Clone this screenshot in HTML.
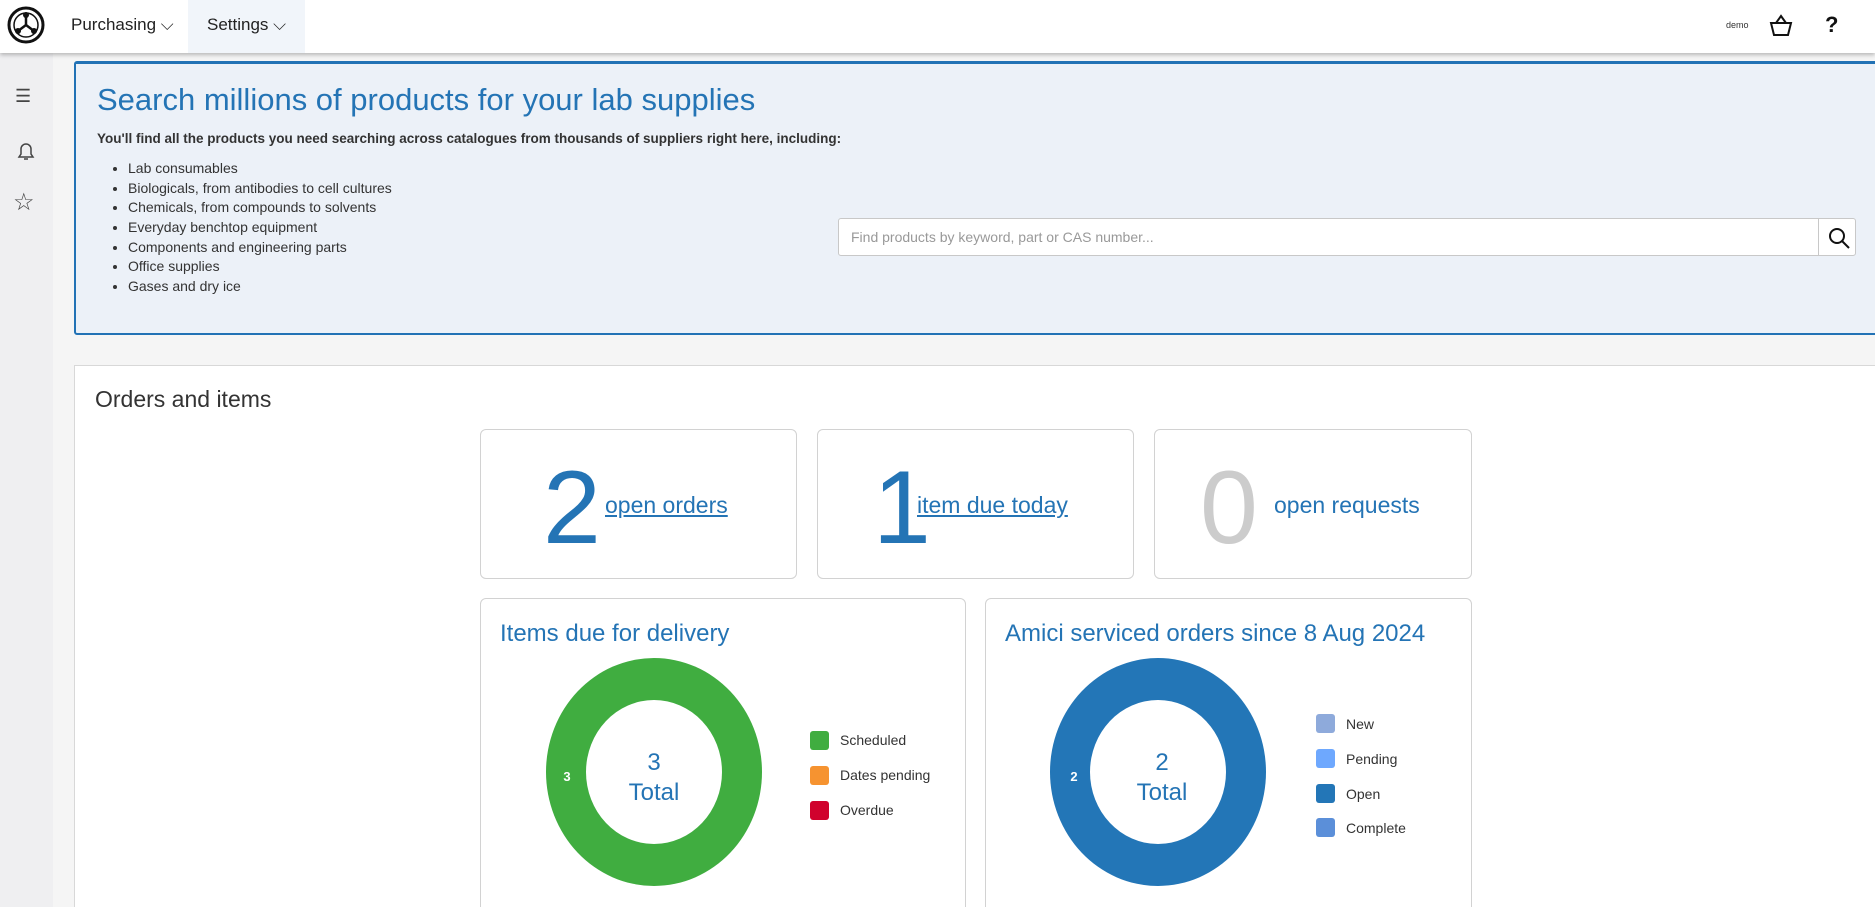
<!DOCTYPE html>
<html style="width:1875px;height:907px;overflow:hidden"><head><meta charset="utf-8"><style>
*{box-sizing:border-box;margin:0;padding:0}
body{width:1875px;height:907px;overflow:hidden;background:#f5f5f5;font-family:"Liberation Sans",sans-serif;color:#333;position:relative}
#wrap{position:absolute;left:0;top:0;width:1875px;height:907px;overflow:hidden}
.abs{position:absolute}
.hdr{left:0;top:0;width:1875px;height:53px;background:#fff;box-shadow:0 2px 4px rgba(0,0,0,.25);z-index:5}
.side{left:0;top:53px;width:53px;height:854px;background:#efeff1}
.banner{left:74px;top:61px;width:1820px;height:274px;background:#ecf1f8;border:2px solid #2272b5;border-top-width:3px;border-radius:3px}
.panel{left:74px;top:365px;width:1820px;height:560px;background:#fff;border:1px solid #d8d8d8}
.card{background:#fff;border:1px solid #d2d2d2;border-radius:6px}
.big{font-size:104px;line-height:1;color:#2474b5;font-weight:300}
.lnk{font-size:23px;color:#2474b5}
.leg{font-size:14px;color:#333}
.sq{width:19px;height:19px;border-radius:3px}
li{font-size:14px;height:19.7px;line-height:19.7px}
</style></head><body><div id="wrap">
<div class="abs hdr">
 <svg class="abs" style="left:7px;top:6px" width="38" height="38" viewBox="0 0 38 38"><circle cx="19" cy="19" r="17" fill="none" stroke="#111" stroke-width="3"/><circle cx="19" cy="19" r="12" fill="none" stroke="#111" stroke-width="1.5"/><line x1="19" y1="19" x2="19" y2="9" stroke="#111" stroke-width="2.5"/><line x1="19" y1="19" x2="11" y2="25" stroke="#111" stroke-width="2.5"/><line x1="19" y1="19" x2="27" y2="25" stroke="#111" stroke-width="2.5"/><circle cx="19" cy="9" r="3" fill="#111"/><circle cx="11" cy="25" r="3" fill="#111"/><circle cx="27" cy="25" r="3" fill="#111"/></svg>
 <div class="abs" style="left:71px;top:15px;font-size:17px;color:#222">Purchasing ⌵</div>
 <div class="abs" style="left:188px;top:0;width:117px;height:53px;background:#f1f5fa"></div>
 <div class="abs" style="left:207px;top:15px;font-size:17px;color:#222">Settings ⌵</div>
 <div class="abs" style="left:1726px;top:20px;font-size:9px;color:#333">demo</div>
 <svg class="abs" style="left:1768px;top:13px" width="26" height="26" viewBox="0 0 26 26"><path d="M3 10h20l-3 12H6z M8 10l5-7 5 7" fill="none" stroke="#111" stroke-width="2"/></svg>
 <div class="abs" style="left:1825px;top:12px;font-size:22px;color:#111;font-weight:bold">?</div>
</div>
<div class="abs side">
 <div class="abs" style="left:15px;top:33px;font-size:18px;color:#444">☰</div>
 <svg class="abs" style="left:14px;top:86px" width="24" height="24" viewBox="0 0 24 24"><path d="M5 18h14l-2-3V10a5 5 0 0 0-10 0v5z M10 20h4" fill="none" stroke="#444" stroke-width="1.5"/></svg>
 <div class="abs" style="left:13px;top:135px;font-size:24px;color:#444">☆</div>
</div>
<div class="abs banner">
 <div class="abs" style="left:21px;top:18px;font-size:31px;color:#2474b5">Search millions of products for your lab supplies</div>
 <div class="abs" style="left:21px;top:67px;font-size:13.5px;font-weight:bold;color:#333">You'll find all the products you need searching across catalogues from thousands of suppliers right here, including:</div>
 <ul class="abs" style="left:52px;top:95px;color:#333">
  <li>Lab consumables</li><li>Biologicals, from antibodies to cell cultures</li><li>Chemicals, from compounds to solvents</li><li>Everyday benchtop equipment</li><li>Components and engineering parts</li><li>Office supplies</li><li>Gases and dry ice</li>
 </ul>
 <div class="abs" style="left:762px;top:154px;width:1018px;height:38px;background:#fff;border:1px solid #c8c8c8;border-radius:3px">
  <div class="abs" style="left:12px;top:10px;font-size:14px;color:#999">Find products by keyword, part or CAS number...</div>
  <div class="abs" style="left:979px;top:0;width:1px;height:36px;background:#c8c8c8"></div>
  <svg class="abs" style="left:988px;top:7px" width="24" height="24" viewBox="0 0 24 24"><circle cx="10" cy="10" r="7" fill="none" stroke="#111" stroke-width="2"/><line x1="15" y1="15" x2="22" y2="22" stroke="#111" stroke-width="2"/></svg>
 </div>
</div>
<div class="abs panel">
 <div class="abs" style="left:20px;top:20px;font-size:23px;color:#333">Orders and items</div>
</div>
<div class="abs card" style="left:480px;top:429px;width:317px;height:150px">
 <div class="abs big" style="left:62px;top:26px">2</div>
 <div class="abs lnk" style="left:124px;top:62px;text-decoration:underline">open orders</div>
</div>
<div class="abs card" style="left:817px;top:429px;width:317px;height:150px">
 <div class="abs big" style="left:55px;top:26px">1</div>
 <div class="abs lnk" style="left:99px;top:62px;text-decoration:underline">item due today</div>
</div>
<div class="abs card" style="left:1154px;top:429px;width:318px;height:150px">
 <div class="abs big" style="left:45px;top:26px;color:#ccc">0</div>
 <div class="abs lnk" style="left:119px;top:62px">open requests</div>
</div>
<div class="abs card" style="left:480px;top:598px;width:486px;height:320px">
 <div class="abs" style="left:19px;top:21px;font-size:24px;color:#2474b5">Items due for delivery</div>
</div>
<div class="abs card" style="left:985px;top:598px;width:487px;height:320px">
 <div class="abs" style="left:19px;top:21px;font-size:24px;color:#2474b5">Amici serviced orders since 8 Aug 2024</div>
</div>
<svg class="abs" style="left:0;top:0" width="1875" height="907">
 <ellipse cx="654" cy="772" rx="108" ry="114" fill="#40ad40"/>
 <ellipse cx="654" cy="772" rx="68" ry="72" fill="#fff"/>
 <text x="567" y="781" font-family="Liberation Sans" font-size="13" font-weight="bold" fill="#fff" text-anchor="middle">3</text>
 <text x="654" y="770" font-family="Liberation Sans" font-size="24" fill="#2474b5" text-anchor="middle">3</text>
 <text x="654" y="800" font-family="Liberation Sans" font-size="24" fill="#2474b5" text-anchor="middle">Total</text>
 <ellipse cx="1158" cy="772" rx="108" ry="114" fill="#2376b7"/>
 <ellipse cx="1158" cy="772" rx="68" ry="72" fill="#fff"/>
 <text x="1074" y="781" font-family="Liberation Sans" font-size="13" font-weight="bold" fill="#fff" text-anchor="middle">2</text>
 <text x="1162" y="770" font-family="Liberation Sans" font-size="24" fill="#2474b5" text-anchor="middle">2</text>
 <text x="1162" y="800" font-family="Liberation Sans" font-size="24" fill="#2474b5" text-anchor="middle">Total</text>
</svg>
<div class="abs sq" style="left:810px;top:731px;background:#40ad40"></div><div class="abs leg" style="left:840px;top:732px">Scheduled</div>
<div class="abs sq" style="left:810px;top:766px;background:#f69330"></div><div class="abs leg" style="left:840px;top:767px">Dates pending</div>
<div class="abs sq" style="left:810px;top:801px;background:#d0022d"></div><div class="abs leg" style="left:840px;top:802px">Overdue</div>
<div class="abs sq" style="left:1316px;top:714px;background:#8eaadb"></div><div class="abs leg" style="left:1346px;top:716px">New</div>
<div class="abs sq" style="left:1316px;top:749px;background:#6ea8fe"></div><div class="abs leg" style="left:1346px;top:751px">Pending</div>
<div class="abs sq" style="left:1316px;top:784px;background:#2376b7"></div><div class="abs leg" style="left:1346px;top:786px">Open</div>
<div class="abs sq" style="left:1316px;top:818px;background:#5b8fd9"></div><div class="abs leg" style="left:1346px;top:820px">Complete</div>
</div></body></html>
